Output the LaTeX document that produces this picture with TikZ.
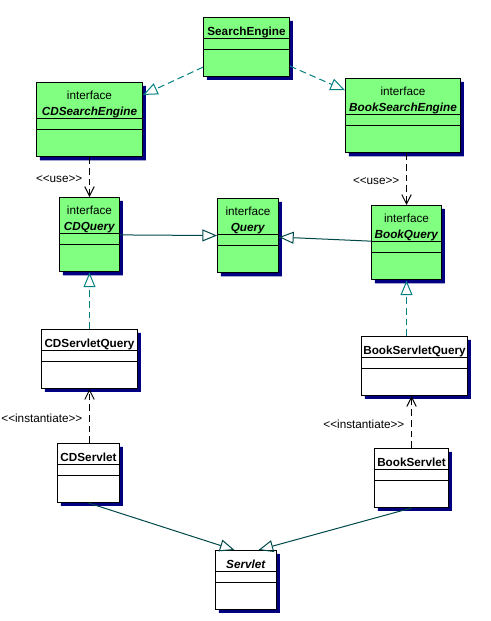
\documentclass[tikz,border=0pt]{standalone}
\usepackage{fontspec}
\setmainfont{Liberation Sans}
\usepackage{tikz}
\usetikzlibrary{positioning,arrows.meta,calc,shapes.multipart,shadows}
\definecolor{umlgreen}{RGB}{128,255,128}
\definecolor{umlshadow}{RGB}{0,0,128}
\definecolor{realline}{RGB}{0,128,128}
\definecolor{genline}{RGB}{0,72,72}
\newcommand{\iface}[1]{{\renewcommand{\arraystretch}{0}\begin{tabular}{@{}c@{}}\rule{0pt}{12pt}interface\\\rule[-2.5pt]{0pt}{14.5pt}\textbf{\textit{#1}}\end{tabular}}}
\newcommand{\cname}[1]{\rule[-2pt]{0pt}{15pt}\textbf{#1}}
\newcommand{\emptyparts}{\nodepart{two}\phantom{\rule{1pt}{7.5pt}}\nodepart{three}\phantom{\rule{1pt}{19.5pt}}}
\newcommand{\stereo}[1]{<{}<#1>{}>}

\begin{document}
\begin{tikzpicture}[x=0.75pt, y=-0.75pt, font=\fontsize{8.8}{10}\selectfont, >=Latex,
  cls/.style={draw, line width=0.75pt, rectangle split, rectangle split parts=3, inner xsep=1pt, inner ysep=0pt, anchor=north west, fill=white, drop shadow={shadow xshift=2.5pt, shadow yshift=-2.5pt, fill=umlshadow, opacity=1}},
  ifc/.style={cls, fill=umlgreen},
  realize/.style={draw=realline, line width=0.75pt, dash pattern=on 5pt off 3pt, -{Triangle[open, length=11pt, width=9pt]}},
  general/.style={draw=genline, line width=0.75pt, -{Triangle[open, length=11pt, width=9pt]}},
  depend/.style={line width=0.75pt, dash pattern=on 5pt off 3pt, -{Straight Barb[length=7pt, width=7pt]}},
  lab/.style={inner sep=0pt}]
  \useasboundingbox (0,0) rectangle (490,621);
  % engines
  \node[ifc, minimum width=64.5pt] (se) at (203,17) {\cname{SearchEngine}\emptyparts};
  \node[ifc, minimum width=79.5pt] (cdse) at (36,82) {\iface{CDSearchEngine}\emptyparts};
  \node[ifc, minimum width=86.25pt] (bse) at (345,78) {\iface{BookSearchEngine}\emptyparts};
  % queries
  \node[ifc, minimum width=45pt] (cdq) at (59,197) {\iface{CDQuery}\emptyparts};
  \node[ifc, minimum width=45.75pt] (q) at (217,198) {\iface{Query}\emptyparts};
  \node[ifc, minimum width=52.5pt] (bq) at (371,205) {\iface{BookQuery}\emptyparts};
  % servlet classes
  \node[cls, minimum width=72pt] (cdsq) at (41,329) {\cname{CDServletQuery}\emptyparts};
  \node[cls, minimum width=79.5pt] (bsq) at (361,336) {\cname{BookServletQuery}\emptyparts};
  \node[cls, minimum width=46.5pt] (cds) at (57,443) {\cname{CDServlet}\emptyparts};
  \node[cls, minimum width=55.5pt] (bs) at (374,448) {\cname{BookServlet}\emptyparts};
  \node[cls, minimum width=45.75pt] (srv) at (215,550) {\cname{\textit{Servlet}}\emptyparts};
  \coordinate (srvl) at ($(srv.north)+(-11.5,0)$);
  \coordinate (srvr) at ($(srv.north)+(12.5,0)$);
  % connectors
  \draw[realize] (se) -- (cdse);
  \draw[realize] (se) -- (bse);
  \draw[depend] (cdse.south) -- node[lab, pos=0.55, left=5pt] {\stereo{use}} (cdq.north);
  \draw[depend] (bse.south -| bq.north) -- node[lab, pos=0.54, left=5pt] {\stereo{use}} (bq.north);
  \draw[general] (cdq) -- (q);
  \draw[general] (bq) -- (q);
  \draw[realize] (cdsq.north) -- (cdq.south);
  \draw[realize] (bsq.north -| bq.south) -- (bq.south);
  \draw[depend] (cds.north -| cdsq.south) -- node[lab, pos=0.45, left=5pt] {\stereo{instantiate}} (cdsq.south);
  \draw[depend] (bs.north) -- node[lab, pos=0.46, left=5pt] {\stereo{instantiate}} (bs.north |- bsq.south);
  \draw[general] (cds.south) -- (srvl);
  \draw[general] (bs.south) -- (srvr);
\end{tikzpicture}
\end{document}
